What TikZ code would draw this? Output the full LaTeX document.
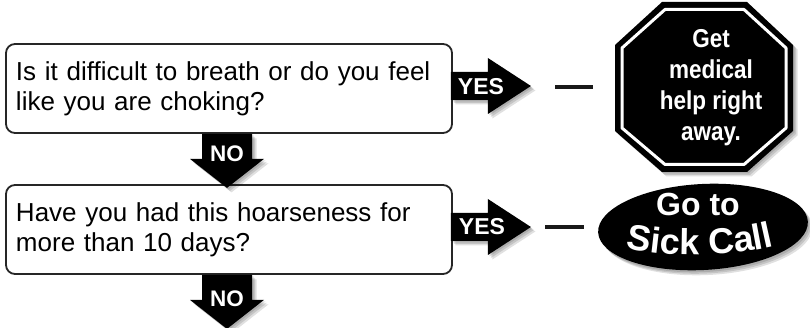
\documentclass[tikz,border=0pt]{standalone}
\usepackage{fontspec}
\setmainfont{Liberation Sans}
\usetikzlibrary{shapes.geometric,decorations.text,calc}
\tikzset{
 qbox/.style={draw=black!85, line width=1.8pt, rounded corners=9pt, fill=white,
   minimum width=446pt, minimum height=89pt, text width=426pt, inner xsep=10pt,
   align=left, font=\fontsize{26}{30}\selectfont},
 blk/.style={fill=black},
 shade1/.style={fill=black, opacity=0.12},
 lbl/.style={text=white, font=\bfseries\fontsize{22.5}{22.5}\selectfont, inner sep=0pt, anchor=base},
 dashbar/.style={line width=4.5pt, draw=black!90},
 pics/downarr/.style={code={
   \foreach \d in {1.5,3,4.5}{
     \fill[shade1, shift={(\d,\d)}] (-25,0) -- (25,0) -- (25,25) -- (37,25) -- (0,54) -- (-37,25) -- (-25,25) -- cycle;}
   \fill[blk] (-25,0) -- (25,0) -- (25,25) -- (37,25) -- (0,54) -- (-37,25) -- (-25,25) -- cycle;}},
 pics/rightarr/.style={code={
   \foreach \d in {1.5,3,4.5}{
     \fill[shade1, shift={(\d,\d)}] (0,-14) -- (37,-14) -- (37,-28) -- (80,0) -- (37,28) -- (37,14) -- (0,14) -- cycle;}
   \fill[blk] (0,-14) -- (37,-14) -- (37,-28) -- (80,0) -- (37,28) -- (37,14) -- (0,14) -- cycle;}},
}
\begin{document}
\begin{tikzpicture}[x=1pt,y=-1pt]
\useasboundingbox (0,0) rectangle (810,328);
\fill[white] (0,0) rectangle (810,328);

% question boxes
\node[qbox] (q1) at (229,88.5) {Is it difficult to breath or do you feel like you are choking?};
\node[qbox] (q2) at (229,229.5) {Have you had this hoarseness for more than 10 days?};

% YES arrows
\pic at ($(q1.east)+(-2,-2.5)$) {rightarr};
\node[lbl, font=\bfseries\fontsize{23}{23}\selectfont] (yes1) at (481,95) {YES};
\pic at ($(q2.east)+(-2,-2.5)$) {rightarr};
\node[lbl, font=\bfseries\fontsize{23}{23}\selectfont] (yes2) at (482,235) {YES};

% NO arrows
\pic at ($(q1.south)+(-2,0)$) {downarr};
\node[lbl] (no1) at (227,162) {NO};
\pic at ($(q2.south)+(-2,0)$) {downarr};
\node[lbl] (no2) at (227,306) {NO};

% dashes
\coordinate (d1a) at (555,87);
\coordinate (d1b) at (593,87);
\draw[dashbar] (d1a) -- (d1b);
\coordinate (d2a) at (545,227);
\coordinate (d2b) at (584,227);
\draw[dashbar] (d2a) -- (d2b);

% stop sign
\foreach \d in {1.5,3,4.5}{
 \fill[shade1, shift={(\d,\d)}] (662,2) -- (747,2) -- (793,45) -- (793,131) -- (747,172) -- (662,172) -- (615,131) -- (615,45) -- cycle;}
\fill[black] (662,2) -- (747,2) -- (793,45) -- (793,131) -- (747,172) -- (662,172) -- (615,131) -- (615,45) -- cycle;
\draw[white, line width=3pt, line join=round] (665,9.5) -- (744,9.5) -- (786,48) -- (786,128) -- (744,164.5) -- (665,164.5) -- (622,128) -- (622,48) -- cycle;
\node[text=white, font=\bfseries\fontsize{22.5}{27}\selectfont, inner sep=0pt] (stop) at (711,88)
  {\scalebox{1}[1.15]{\begin{tabular}{@{}c@{}}Get\\medical\\help right\\away.\end{tabular}}};

% sick call ellipse
\foreach \d in {1.5,3,4.5}{
 \node[ellipse, shade1, minimum width=210pt, minimum height=86pt, rotate=3, inner sep=0pt] at ($(703,227)+(\d,\d+0.5)$) {};}
\node[ellipse, fill=black, minimum width=210pt, minimum height=86pt, rotate=3, inner sep=0pt] (sick) at (703,227) {};
\node[text=white, font=\bfseries\fontsize{32}{32}\selectfont, inner sep=0pt, anchor=base] (goto) at (698,216) {Go to};
\coordinate (scA) at (614,245);
\coordinate (scB) at (786,243);
\path[decorate, decoration={text along path, text align=center, text color=white,
  text={|\bfseries\fontsize{36}{36}\selectfont|Sick Call}}]
  (scA) .. controls (664,259) and (736,258) .. (scB);
\end{tikzpicture}
\end{document}
